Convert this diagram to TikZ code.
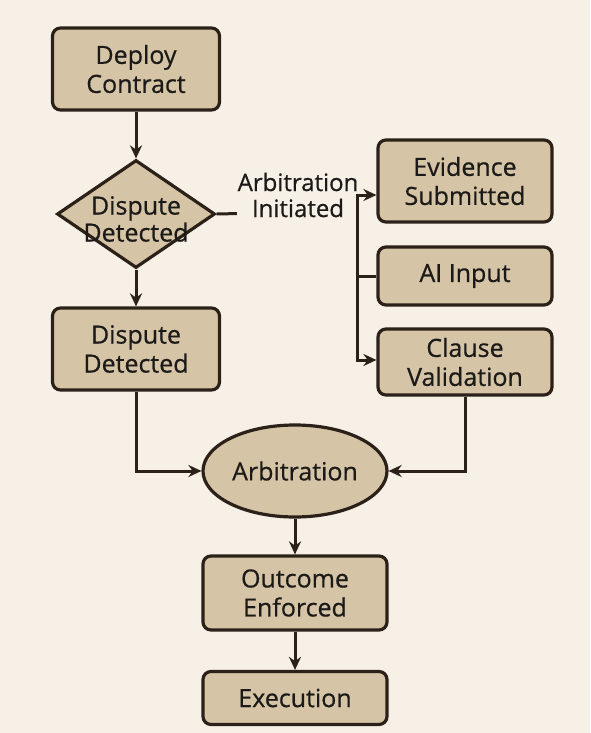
\documentclass[tikz,border=0pt]{standalone}
\usepackage{fontspec}
\setmainfont{Open Sans}[FakeBold=0.6]
\usetikzlibrary{arrows.meta, positioning, shapes.geometric}
\definecolor{arBg}{HTML}{F6F0E7}
\definecolor{arFill}{HTML}{D5C4A5}
\definecolor{arInk}{HTML}{2B2119}
\definecolor{arText}{HTML}{1C1A18}
\tikzset{
  box/.style={
    draw=arInk, line width=3.2pt, rounded corners=8pt,
    fill=arFill, inner sep=3pt, align=center,
    font=\fontsize{25}{29}\selectfont, text=arText,
    minimum width=167pt, minimum height=82pt
  },
  widebox/.style={box, minimum width=184pt},
  sidebox/.style={box, minimum width=174pt},
  decide/.style={
    diamond, draw=arInk, line width=3.2pt, fill=arFill,
    inner sep=0pt, minimum width=158pt, minimum height=108pt
  },
  dtext/.style={align=center, font=\fontsize{25}{27}\selectfont, text=arText, inner sep=0pt},
  oval/.style={
    ellipse, draw=arInk, line width=3.2pt, fill=arFill,
    inner sep=0pt, minimum width=184pt, minimum height=92pt,
    font=\fontsize{25}{29}\selectfont, text=arText
  },
  flow/.style={-{Stealth[length=13pt, width=12pt]}, line width=3pt, draw=arInk},
  link/.style={line width=3pt, draw=arInk},
  lbl/.style={align=center, font=\fontsize{24}{26}\selectfont, text=arText,
    fill=arBg, inner sep=1pt},
}

\begin{document}
\begin{tikzpicture}[x=1pt, y=-1pt]
  \fill[arBg] (0,0) rectangle (590,733);
  \useasboundingbox (0,0) rectangle (590,733);

  % left column
  \node[box] (deploy) at (136,69) {Deploy\\Contract};
  \node[decide, label={[dtext, yshift=-5pt]center:Dispute\\Detected}] (dd) at (136,214) {};
  \node[box] (dispute) at (136,349) {Dispute\\Detected};

  % evidence side
  \node[sidebox] (evid) at (465,181) {Evidence\\Submitted};
  \node[sidebox, minimum height=58pt] (ai) at (465,276) {AI Input};
  \node[sidebox, minimum height=66pt] (clause) at (465,362) {Clause\\Validation};

  % bottom
  \node[oval] (arb) at (295,471) {Arbitration};
  \node[widebox, minimum height=74pt] (outcome) at (295,593) {Outcome\\Enforced};
  \node[widebox, minimum height=53pt] (exec) at (295,698) {Execution};

  \draw[flow] (deploy) -- (dd);
  \draw[flow] (dd) -- (dispute);

  \coordinate (bus) at (357,211);
  \draw[link] (dd.east) -- (bus);
  \node[lbl] (init) at (298,195) {Arbitration\\Initiated};
  \draw[flow] (bus) |- ([yshift=-14pt]evid.west);
  \draw[flow] (bus) |- ([yshift=2pt]clause.west);
  \draw[link] (bus |- ai.west) -- (ai.west);

  \draw[flow] (dispute.south) |- (arb.west);
  \draw[flow] (clause.south) |- (arb.east);
  \draw[flow] (arb) -- (outcome);
  \draw[flow] (outcome) -- (exec);
\end{tikzpicture}
\end{document}
